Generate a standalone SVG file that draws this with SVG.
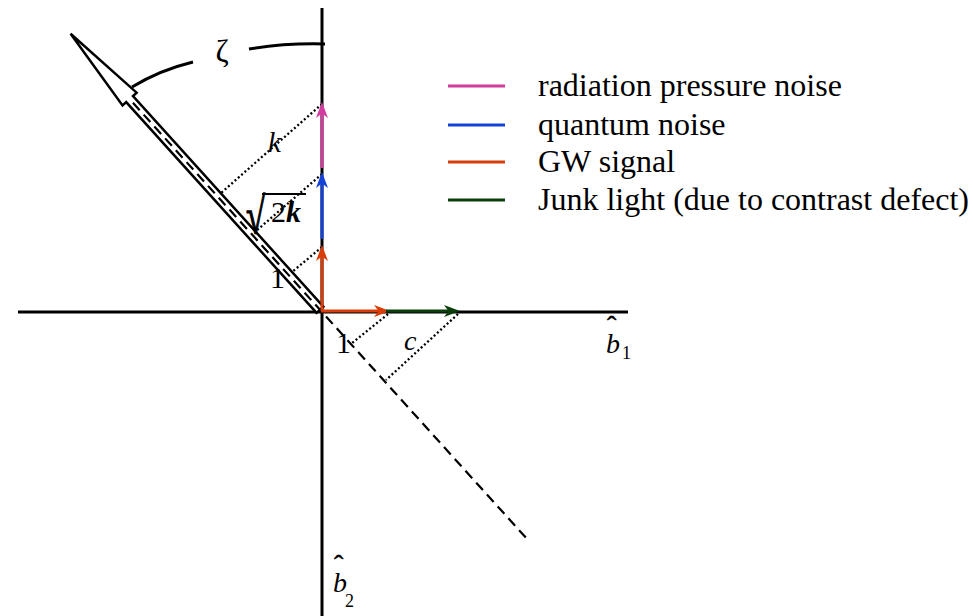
<svg xmlns="http://www.w3.org/2000/svg" width="973" height="616" viewBox="0 0 973 616">
<style>
.t{font-family:"Liberation Serif","Times New Roman",serif;fill:#000}
.it{font-style:italic}
.ax{stroke:#000;stroke-width:3;fill:none}
.dot{stroke:#000;stroke-width:2.3;stroke-dasharray:2 2.4;fill:none}
.vec{stroke-width:3;fill:none}
</style>
<defs>
<marker id="mR" markerUnits="userSpaceOnUse" viewBox="-9 -7 19 14" markerWidth="19" markerHeight="14" refX="0" refY="0" orient="auto"><path d="M8,0 L-8,-6 L-3.5,0 L-8,6 Z" fill="#d83c08"/></marker>
<marker id="mB" markerUnits="userSpaceOnUse" viewBox="-9 -7 19 14" markerWidth="19" markerHeight="14" refX="0" refY="0" orient="auto"><path d="M8,0 L-8,-6 L-3.5,0 L-8,6 Z" fill="#1442d8"/></marker>
<marker id="mM" markerUnits="userSpaceOnUse" viewBox="-9 -7 19 14" markerWidth="19" markerHeight="14" refX="0" refY="0" orient="auto"><path d="M8,0 L-8,-6 L-3.5,0 L-8,6 Z" fill="#d23c9e"/></marker>
<marker id="mG" markerUnits="userSpaceOnUse" viewBox="-9 -7 19 14" markerWidth="19" markerHeight="14" refX="0" refY="0" orient="auto"><path d="M8,0 L-8,-6 L-3.5,0 L-8,6 Z" fill="#0b3d0b"/></marker>
</defs>
<rect width="973" height="616" fill="#fff"/>
<g id="axes">
<line class="ax" x1="322" y1="8" x2="322" y2="616"/>
<line class="ax" x1="18" y1="312" x2="628" y2="312"/>
</g>
<g id="zeta-arc">
<path class="ax" d="M132,87 Q160,70 193,62"/>
<path class="ax" d="M249,49 Q285,43 325,44"/>
<text class="t" x="222" y="62" font-size="32" text-anchor="middle">ζ</text>
</g>
<g id="arrow" transform="translate(322,312) rotate(227.9)">
<path d="M3,-4.6 L287,-4.6 L287,-9.5 L375,0 L287,9.5 L287,4.6 L3,4.6 Z" fill="#fff" stroke="#000" stroke-width="2.5" stroke-linejoin="miter"/>
<line x1="282" y1="0" x2="-305" y2="0" stroke="#000" stroke-width="2.2" stroke-dasharray="10 6"/>
</g>
<g id="connectors">
<line class="dot" x1="322" y1="104" x2="221" y2="193"/>
<line class="dot" x1="322" y1="174" x2="256" y2="231"/>
<line class="dot" x1="322" y1="247" x2="292" y2="272"/>
<line class="dot" x1="388" y1="314" x2="351" y2="344"/>
<line class="dot" x1="458" y1="314" x2="386" y2="380"/>
</g>
<g id="vectors">
<line class="vec" stroke="#d83c08" x1="322" y1="311" x2="322" y2="253" marker-end="url(#mR)"/>
<line class="vec" stroke="#1442d8" x1="322" y1="239" x2="322" y2="180" marker-end="url(#mB)"/>
<line class="vec" stroke="#d23c9e" x1="322" y1="168" x2="322" y2="110" marker-end="url(#mM)"/>
<line class="vec" stroke="#d83c08" x1="321" y1="311" x2="382" y2="311" marker-end="url(#mR)"/>
<line class="vec" stroke="#0b3d0b" x1="386" y1="311" x2="452" y2="311" marker-end="url(#mG)"/>
</g>
<g id="labels">
<text class="t it" x="268" y="152" font-size="29">k</text>
<text class="t" font-size="30" stroke="#000" stroke-width="0.7" transform="translate(246,233) scale(1.15,1.7)">√</text>
<line x1="262" y1="194" x2="306" y2="194" stroke="#000" stroke-width="1.8"/>
<text class="t" x="271" y="222" font-size="30">2<tspan font-weight="bold" font-style="italic">k</tspan></text>
<text class="t" x="270" y="288" font-size="30">1</text>
<text class="t" x="336" y="353" font-size="30">1</text>
<text class="t it" x="404" y="350" font-size="28">c</text>
<text class="t it" x="606" y="353" font-size="28">b</text>
<text class="t" x="607" y="335" font-size="28" stroke="#000" stroke-width="0.5">ˆ</text>
<text class="t" x="622" y="359" font-size="18">1</text>
<text class="t it" x="333" y="592" font-size="28">b</text>
<text class="t" x="334" y="574" font-size="28" stroke="#000" stroke-width="0.5">ˆ</text>
<text class="t" x="345" y="607" font-size="18">2</text>
</g>
<g id="legend">
<line x1="448" y1="86" x2="505" y2="86" stroke="#d23c9e" stroke-width="3"/>
<line x1="448" y1="125" x2="505" y2="125" stroke="#1442d8" stroke-width="3"/>
<line x1="448" y1="162" x2="505" y2="162" stroke="#d83c08" stroke-width="3"/>
<line x1="448" y1="200" x2="505" y2="200" stroke="#0b3d0b" stroke-width="3"/>
<text class="t" x="538" y="96" font-size="32">radiation pressure noise</text>
<text class="t" x="538" y="135" font-size="32">quantum noise</text>
<text class="t" x="538" y="172" font-size="32">GW signal</text>
<text class="t" x="538" y="210" font-size="32">Junk light (due to contrast defect)</text>
</g>
</svg>
